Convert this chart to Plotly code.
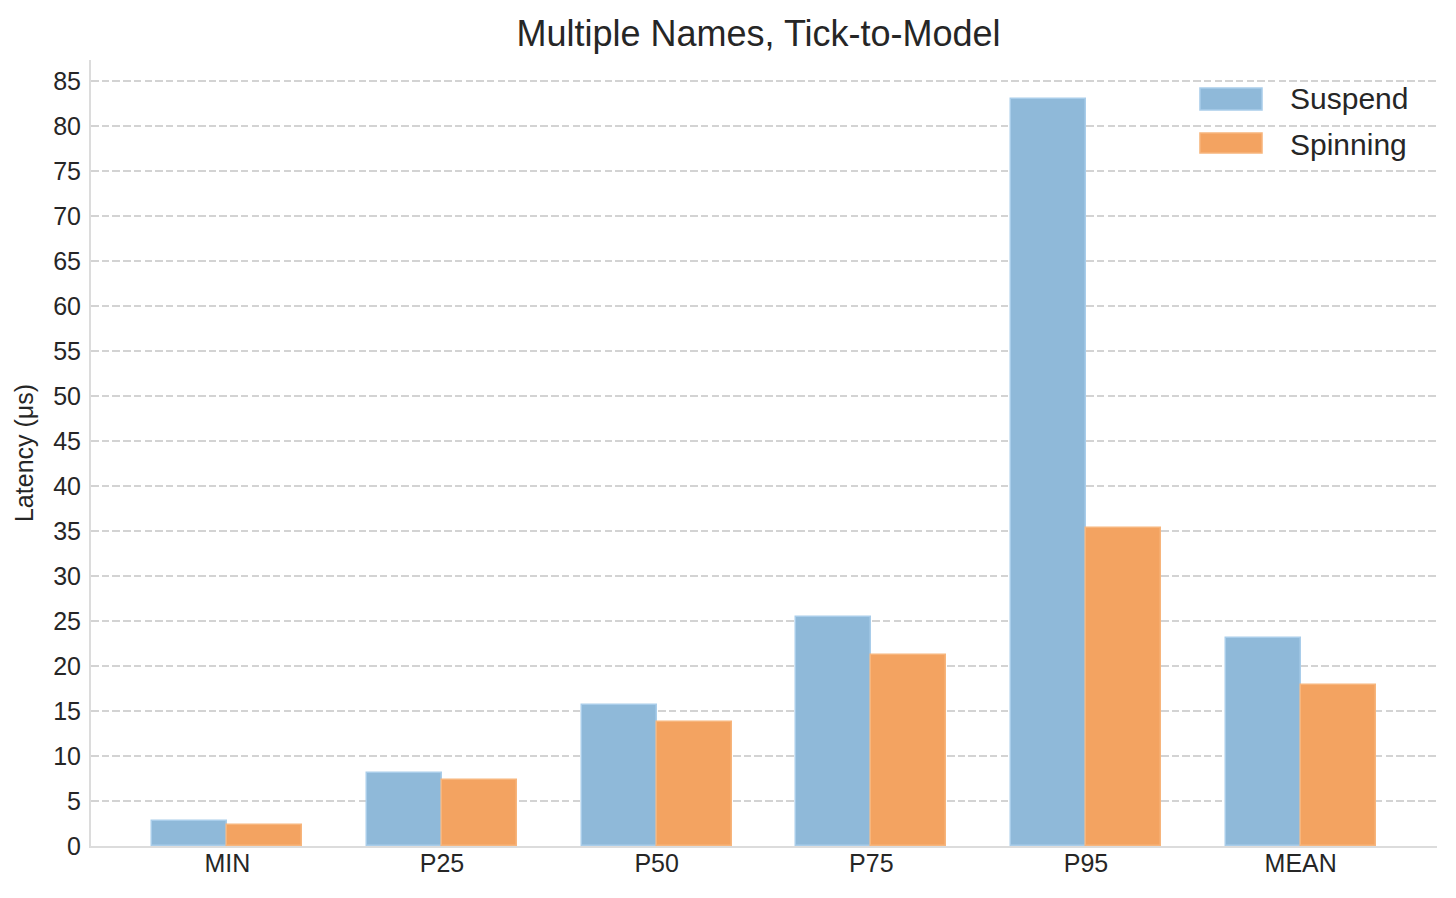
import plotly.graph_objects as go

categories = ["MIN", "P25", "P50", "P75", "P95", "MEAN"]
suspend = [2.8, 8.1, 15.65, 25.45, 83.0, 23.1]
spinning = [2.35, 7.35, 13.75, 21.25, 35.3, 17.9]
series_names = ["Suspend", "Spinning"]
yticks = list(range(0, 90, 5))

font = "Liberation Sans, Arial, sans-serif"
x_idx = list(range(len(categories)))
fill_colors = ["#8fb9d9", "#f3a361"]
edge_colors = ["#a9cdea", "#f7b57c"]

fig = go.Figure()
fig.add_trace(go.Bar(
    x=[i - 0.175 for i in x_idx], y=suspend, width=0.35, name=series_names[0],
    marker=dict(color=fill_colors[0], line=dict(color=edge_colors[0], width=1.5)),
))
fig.add_trace(go.Bar(
    x=[i + 0.175 for i in x_idx], y=spinning, width=0.35, name=series_names[1],
    marker=dict(color=fill_colors[1], line=dict(color=edge_colors[1], width=1.5)),
))

# Legend drawn manually (wide swatches like the reference)
legend_rows = [(0.9644, 0.9364, 0.9504), (0.9071, 0.8817, 0.8931)]
for name, fc, ec, (y0, y1, yc) in zip(series_names, fill_colors, edge_colors, legend_rows):
    fig.add_shape(type="rect", xref="paper", yref="paper",
                  x0=0.8239, x1=0.870, y0=y1, y1=y0,
                  fillcolor=fc, line=dict(color=ec, width=1.5))
    fig.add_annotation(text=name, xref="paper", yref="paper", x=0.8893, y=yc,
                       xanchor="left", yanchor="middle", showarrow=False,
                       font=dict(size=30, color="#262626"))

fig.update_layout(
    width=1440, height=882,
    paper_bgcolor="white", plot_bgcolor="white",
    margin=dict(l=83, r=11, t=52, b=44),
    font=dict(family=font, color="#262626", size=25),
    title=dict(text="Multiple Names, Tick-to-Model", x=0.5212, xref="container", xanchor="center",
               y=0.9717, yanchor="middle", font=dict(size=36, color="#262626")),
    barmode="overlay",
    bargap=0,
    showlegend=False,
)
fig.update_xaxes(
    tickmode="array", tickvals=x_idx, ticktext=categories,
    range=[-0.635, 5.635], showgrid=False, zeroline=False,
    showline=True, linecolor="#dcdcdc", linewidth=2, ticks="",
    tickfont=dict(size=25), ticklabelstandoff=-6, automargin=False,
)
fig.update_yaxes(
    tickmode="array", tickvals=yticks, range=[0, 87.35],
    showgrid=True, gridcolor="#d3d3d3", griddash="7.5px,3.2px", gridwidth=1.6,
    zeroline=False, showline=True, linecolor="#dcdcdc", linewidth=2,
    ticks="", tickfont=dict(size=25), ticklabelstandoff=3, automargin=False,
    title=dict(text="Latency (μs)", font=dict(size=25), standoff=12),
)

fig.write_html("out.html")
